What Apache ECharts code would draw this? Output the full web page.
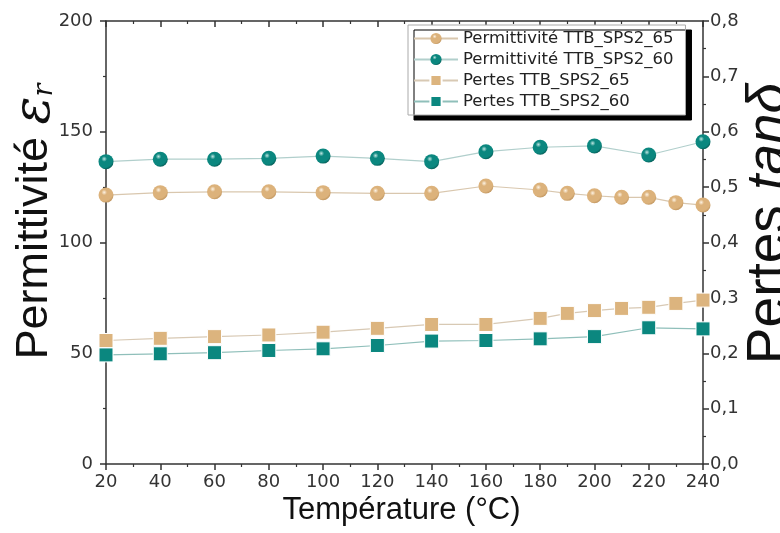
<!DOCTYPE html>
<html><head><meta charset="utf-8">
<script src="https://cdn.jsdelivr.net/npm/echarts@6/dist/echarts.min.js"></script>
<style>html,body{margin:0;padding:0;background:#fff}#c{width:780px;height:533px}</style>
</head><body><div id="c"></div>
<script>
// ---- data ----
const tempPerm65 = [20,40,60,80,100,120,140,160,180,190,200,210,220,230,240];
const perm65     = [121.4,122.5,122.9,122.9,122.5,122.2,122.2,125.5,123.7,122.2,121.1,120.4,120.4,118.0,116.9];
const tempPerm60 = [20,40,60,80,100,120,140,160,180,200,220,240];
const perm60     = [136.5,137.6,137.6,138.0,139.0,138.0,136.5,141.0,143.0,143.6,139.5,145.5];
const tempLoss65 = [20,40,60,80,100,120,140,160,180,190,200,210,220,230,240];
const loss65     = [0.223,0.227,0.230,0.233,0.238,0.245,0.252,0.252,0.263,0.272,0.277,0.281,0.283,0.290,0.296];
const tempLoss60 = [20,40,60,80,100,120,140,160,180,200,220,240];
const loss60     = [0.197,0.199,0.201,0.205,0.208,0.214,0.222,0.223,0.226,0.230,0.246,0.244];
const seriesNames = ['Permittivité TTB_SPS2_65','Permittivité TTB_SPS2_60','Pertes TTB_SPS2_65','Pertes TTB_SPS2_60'];
const xTicks = {min:20, max:240, interval:20};
const yLeftTicks = {min:0, max:200, interval:50};
const yRightTicks = {min:0, max:0.8, interval:0.1};

const zip = (xs, ys) => xs.map((x,i)=>[x, ys[i]]);
const ball = (hi, mid, dark) => ({type:'radial', x:0.38, y:0.32, r:0.75,
  colorStops:[{offset:0,color:hi},{offset:0.25,color:mid},{offset:0.75,color:mid},{offset:1,color:dark}]});

const font = 'Liberation Sans, Arial, sans-serif';
const wide = 'DejaVu Sans, sans-serif';
const axisCommon = {
  nameMoveOverlap:false,
  axisLine:{show:true, onZero:false, lineStyle:{color:'#333', width:1.5}},
  axisTick:{show:true, length:6, lineStyle:{color:'#333', width:1.5}},
  minorTick:{show:true, splitNumber:2, length:3, lineStyle:{color:'#333', width:1.2}},
  splitLine:{show:false},
  axisLabel:{color:'#333', fontSize:18, fontFamily:wide}
};

const chart = echarts.init(document.getElementById('c'), null, {renderer:'canvas'});
chart.setOption({
  animation:false,
  backgroundColor:'#fff',
  grid:{left:106, right:77, top:21, bottom:69, outerBoundsMode:'none', containLabel:false},
  legend:{
    data:seriesNames, orient:'vertical', left:408, top:25,
    itemWidth:44, itemHeight:14, itemGap:4, padding:[5,12,5,5],
    backgroundColor:'#fff', borderColor:'#aaa', borderWidth:1,
    shadowColor:'#000', shadowBlur:0, shadowOffsetX:6, shadowOffsetY:5,
    textStyle:{fontSize:16.5, fontFamily:wide, color:'#222'}
  },
  xAxis:[
    Object.assign({}, axisCommon, {type:'value', position:'bottom', min:xTicks.min, max:xTicks.max, interval:xTicks.interval,
      name:'Température (°C)', nameLocation:'middle', nameGap:31,
      nameTextStyle:{fontSize:31, fontFamily:font, color:'#111', padding:[0,6,0,0]},
      axisLabel:Object.assign({}, axisCommon.axisLabel, {margin:9})}),
    Object.assign({}, axisCommon, {type:'value', position:'top', min:xTicks.min, max:xTicks.max, interval:xTicks.interval,
      axisTick:{show:true, inside:true, length:6, lineStyle:{color:'#333', width:1.5}},
      minorTick:{show:true, splitNumber:2, length:3, lineStyle:{color:'#333', width:1.2}},
      axisLabel:{show:false}})
  ],
  yAxis:[
    Object.assign({}, axisCommon, {type:'value', position:'left', min:yLeftTicks.min, max:yLeftTicks.max, interval:yLeftTicks.interval,
      name:'{n|Permittivité }{e|ε}{r|r}', nameLocation:'middle', nameGap:45, nameRotate:90,
      nameTextStyle:{fontSize:45, fontFamily:font, color:'#111', padding:[0,0,0,42],
        rich:{n:{fontSize:45, fontFamily:font, color:'#111'},
              e:{fontSize:52, fontFamily:'DejaVu Serif', fontStyle:'italic', color:'#111'},
              r:{fontSize:27, fontFamily:'DejaVu Serif', fontStyle:'italic', color:'#111', padding:[20,0,0,0]}}},
      axisLabel:Object.assign({}, axisCommon.axisLabel, {margin:13})}),
    Object.assign({}, axisCommon, {type:'value', position:'right', min:yRightTicks.min, max:yRightTicks.max, interval:yRightTicks.interval,
      name:'{n|Pertes }{t|tanδ}', nameLocation:'middle', nameGap:39, nameRotate:90,
      nameTextStyle:{fontSize:55, fontFamily:font, color:'#111', padding:[0,0,0,38],
        rich:{n:{fontSize:55, fontFamily:font, color:'#111'},
              t:{fontSize:55, fontFamily:font, fontStyle:'italic', color:'#111'}}},
      axisLabel:Object.assign({}, axisCommon.axisLabel, {margin:7,
        formatter:v=>v.toFixed(1).replace('.', ',')})})
  ],
  series:[
    {name:seriesNames[0], type:'line', yAxisIndex:0, data:zip(tempPerm65, perm65),
      symbol:'circle', symbolSize:15, clip:false,
      lineStyle:{color:'#d9c7ae', width:1.2},
      itemStyle:{color:ball('#fdf3e4', '#dcb27b', '#b98e58')}},
    {name:seriesNames[1], type:'line', yAxisIndex:0, data:zip(tempPerm60, perm60),
      symbol:'circle', symbolSize:15, clip:false,
      lineStyle:{color:'#b1cfcc', width:1.2},
      itemStyle:{color:ball('#bfe6e2', '#0b877f', '#04524d')}},
    {name:seriesNames[2], type:'line', yAxisIndex:1, data:zip(tempLoss65, loss65),
      symbol:'rect', symbolSize:14, clip:false,
      lineStyle:{color:'#d8c9b4', width:1.2},
      itemStyle:{color:'#dcb47e', borderColor:'#fff', borderWidth:1}},
    {name:seriesNames[3], type:'line', yAxisIndex:1, data:zip(tempLoss60, loss60),
      symbol:'rect', symbolSize:14, clip:false,
      lineStyle:{color:'#8fbfba', width:1.2},
      itemStyle:{color:'#0b877f', borderColor:'#fff', borderWidth:1}}
  ]
});
</script></body></html>
